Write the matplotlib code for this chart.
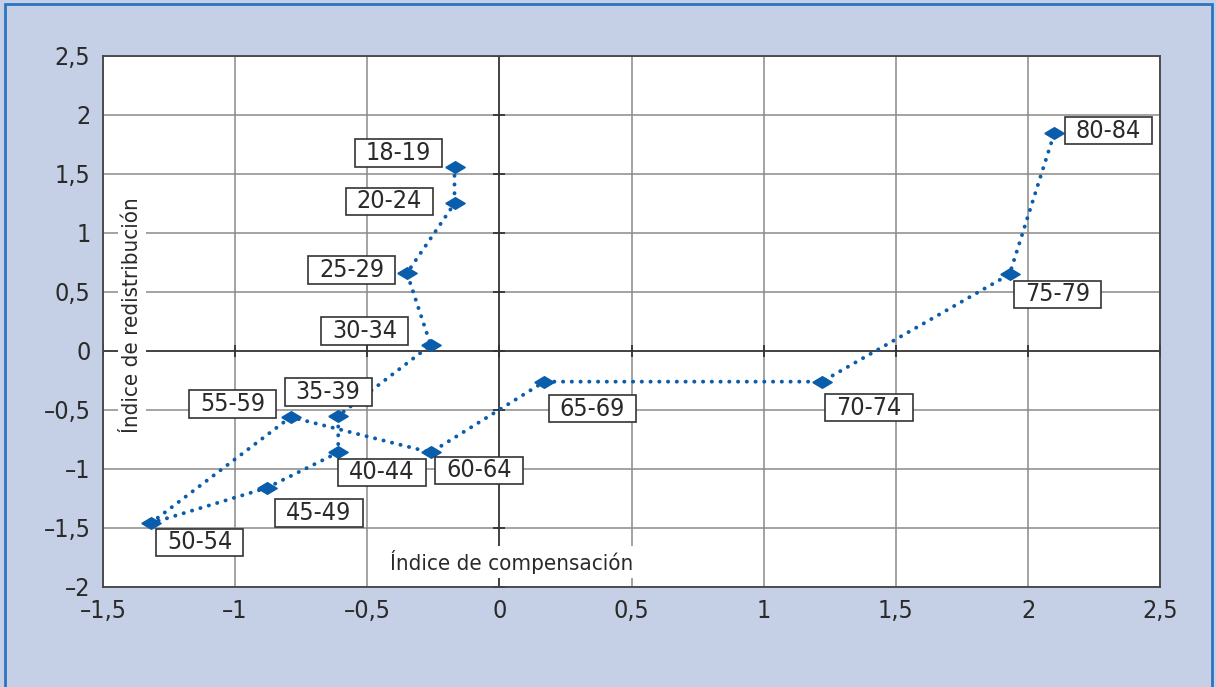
import matplotlib
matplotlib.use("Agg")
import matplotlib.pyplot as plt
import numpy as np
from matplotlib.ticker import FuncFormatter, MultipleLocator
from matplotlib.patches import Rectangle
from matplotlib.path import Path

# Age groups and their (compensation, redistribution) index values
groups = ["18-19", "20-24", "25-29", "30-34", "35-39", "40-44", "45-49",
          "50-54", "55-59", "60-64", "65-69", "70-74", "75-79", "80-84"]
compensacion = [-0.17, -0.17, -0.35, -0.26, -0.61, -0.61, -0.88,
                -1.32, -0.79, -0.26, 0.17, 1.22, 1.93, 2.10]
redistribucion = [1.56, 1.25, 0.66, 0.05, -0.55, -0.86, -1.16,
                  -1.46, -0.56, -0.86, -0.26, -0.26, 0.65, 1.85]

# Label placement relative to each point (pixels, x right / y up)
label_offsets = [(-56, 14), (-65, 2), (-55, 3), (-66, 14), (-10, 24),
                 (44, -20), (52, -25), (49, -19), (-58, 13), (48, -18),
                 (48, -27), (47, -26), (48, -20), (54, 2)]

x_label = "Índice de compensación"
y_label = "Índice de redistribución"

BLUE = "#0A5DAB"
BG = "#C5D0E7"
TXT = "#2A2A2A"
FONT = dict(family="DejaVu Sans", stretch="condensed")


def wide_box(x0, y0, width, height, mutation_size):
    """Rectangular label box with extra horizontal padding."""
    padx = 0.44 * mutation_size
    pady = 0.07 * mutation_size
    x0, x1 = x0 - padx, x0 + width + padx
    y0, y1 = y0 - pady, y0 + height + pady
    return Path([(x0, y0), (x1, y0), (x1, y1), (x0, y1), (x0, y0)], closed=True)


fig = plt.figure(figsize=(12.16, 6.87), dpi=100, facecolor=BG)
# Outer blue frame
fig.patches.append(Rectangle((0.004, -0.01), 0.993, 1.004, transform=fig.transFigure,
                             fill=False, edgecolor="#2B74C2", linewidth=2.0))

ax = fig.add_axes([0.0847, 0.1456, 0.8694, 0.7729])
ax.set_facecolor("white")
ax.set_xlim(-1.5, 2.5)
ax.set_ylim(-2, 2.5)
ax.xaxis.set_major_locator(MultipleLocator(0.5))
ax.yaxis.set_major_locator(MultipleLocator(0.5))
ax.grid(True, color="#8A8A8A", linewidth=1.1, zorder=0)
ax.set_axisbelow(True)

for s in ax.spines.values():
    s.set_color("#444444")
    s.set_linewidth(1.3)

# Zero axes drawn across the plot
ax.axhline(0, color="#333333", linewidth=1.2, zorder=1)
ax.axvline(0, color="#333333", linewidth=1.2, zorder=1)


def fmt(v, pos):
    if abs(v) < 1e-9:
        return "0"
    s = ("%g" % abs(v)).replace(".", ",")
    return ("\u2013" + s) if v < 0 else s


ax.xaxis.set_major_formatter(FuncFormatter(fmt))
ax.yaxis.set_major_formatter(FuncFormatter(fmt))
ax.tick_params(axis="both", length=0, labelsize=18, colors=TXT, pad=9)
for lab in ax.get_xticklabels() + ax.get_yticklabels():
    lab.set_fontstretch("condensed")

# Small cross ticks on the zero axes
xt = np.arange(-1.5, 2.51, 0.5)
yt = np.arange(-2, 2.51, 0.5)
ax.plot(xt, np.zeros_like(xt), linestyle="none", marker="|", markersize=9,
        color="#333333", markeredgewidth=1.3, zorder=2)
ax.plot(np.zeros_like(yt), yt, linestyle="none", marker="_", markersize=9,
        color="#333333", markeredgewidth=1.3, zorder=2)

# Trajectory
diamond = [(-1, 0), (0, 0.6), (1, 0), (0, -0.6), (-1, 0)]
ax.plot(compensacion, redistribucion, color=BLUE, linewidth=2.8,
        linestyle=(0, (0.05, 2.2)), dash_capstyle="round",
        marker=diamond, markersize=14, markerfacecolor=BLUE,
        markeredgecolor=BLUE, zorder=4)

for g, xv, yv, (dx, dy) in zip(groups, compensacion, redistribucion, label_offsets):
    ax.annotate(g, (xv, yv), xytext=(dx, dy), textcoords="offset pixels",
                ha="center", va="center", fontsize=18, color=TXT,
                bbox=dict(boxstyle=wide_box, facecolor="white",
                          edgecolor="#333333", linewidth=1.2),
                zorder=5, **FONT)

ax.text(0.045, -1.79, x_label, ha="center", va="center", fontsize=16,
        color=TXT, zorder=3,
        bbox=dict(facecolor="white", edgecolor="none", pad=3), **FONT)
ax.text(-1.39, 0.3, y_label, ha="center", va="center", rotation=90,
        fontsize=16, color=TXT, zorder=3,
        bbox=dict(facecolor="white", edgecolor="none", pad=3), **FONT)

fig.savefig("out.png", dpi=100, facecolor=BG)
